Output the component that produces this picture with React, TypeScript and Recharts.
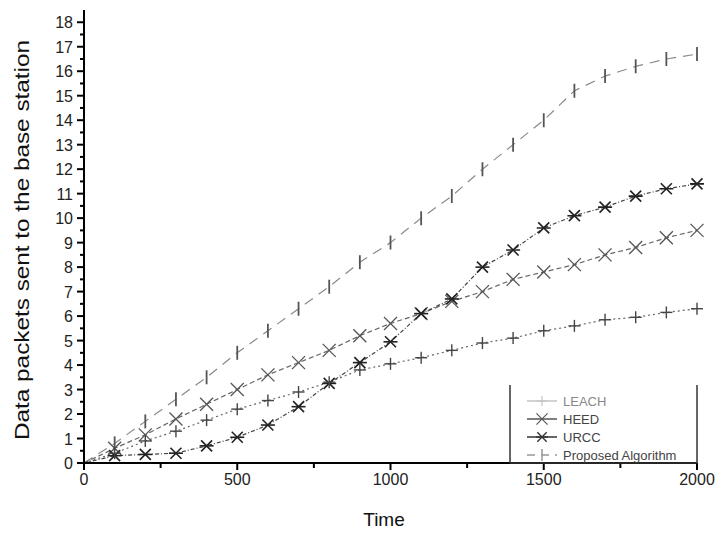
import { LineChart, Line, XAxis, YAxis, Legend } from "recharts";

const times = [0, 100, 200, 300, 400, 500, 600, 700, 800, 900, 1000, 1100, 1200, 1300, 1400, 1500, 1600, 1700, 1800, 1900, 2000];
const leach = [0, 0.4, 0.9, 1.3, 1.75, 2.2, 2.55, 2.9, 3.3, 3.8, 4.05, 4.3, 4.6, 4.9, 5.1, 5.4, 5.6, 5.85, 5.95, 6.15, 6.3];
const heed = [0, 0.6, 1.15, 1.8, 2.4, 3.0, 3.6, 4.1, 4.6, 5.2, 5.7, 6.1, 6.6, 7.0, 7.5, 7.8, 8.1, 8.5, 8.8, 9.2, 9.5];
const urcc = [0, 0.3, 0.35, 0.4, 0.7, 1.05, 1.55, 2.3, 3.25, 4.1, 4.95, 6.1, 6.7, 8.0, 8.7, 9.6, 10.1, 10.45, 10.9, 11.2, 11.4];
const proposed = [0, 0.8, 1.7, 2.6, 3.5, 4.5, 5.4, 6.3, 7.2, 8.2, 9.0, 10.0, 10.9, 12.0, 13.0, 14.0, 15.2, 15.8, 16.2, 16.5, 16.7];

const xTicks = [0, 500, 1000, 1500, 2000];
const yTicks = [0, 1, 2, 3, 4, 5, 6, 7, 8, 9, 10, 11, 12, 13, 14, 15, 16, 17, 18];

const data = times.map((t, i) => ({
  time: t,
  leach: leach[i],
  heed: heed[i],
  urcc: urcc[i],
  proposed: proposed[i],
}));

// minor ticks halfway between majors
const xAllTicks = xTicks.flatMap((t, i) => (i < xTicks.length - 1 ? [t, t + 250] : [t]));
const yAllTicks = yTicks.flatMap((t, i) => (i < yTicks.length - 1 ? [t, t + 0.5] : [t]));

const FONT = "'Liberation Sans', Arial, sans-serif";

type Shape = "plus" | "x" | "star" | "bar";

function Marker({ cx, cy, shape, color }: { cx: number; cy: number; shape: Shape; color: string }) {
  if (shape === "bar") {
    return <line x1={cx} y1={cy - 7} x2={cx} y2={cy + 7} stroke={color} strokeWidth={1.8} />;
  }
  if (shape === "plus") {
    return (
      <g stroke={color} strokeWidth={1.4}>
        <line x1={cx - 6} y1={cy} x2={cx + 6} y2={cy} />
        <line x1={cx} y1={cy - 6} x2={cx} y2={cy + 6} />
      </g>
    );
  }
  if (shape === "x") {
    const s = 6.5;
    return (
      <g stroke={color} strokeWidth={1.3}>
        <line x1={cx - s} y1={cy - s} x2={cx + s} y2={cy + s} />
        <line x1={cx - s} y1={cy + s} x2={cx + s} y2={cy - s} />
      </g>
    );
  }
  const s = 5.5;
  return (
    <g stroke={color} strokeWidth={1.6}>
      <line x1={cx - s} y1={cy - s} x2={cx + s} y2={cy + s} />
      <line x1={cx - s} y1={cy + s} x2={cx + s} y2={cy - s} />
      <line x1={cx - 7} y1={cy} x2={cx + 7} y2={cy} />
    </g>
  );
}

function makeDot(shape: Shape, color: string) {
  return (props: any) => {
    const { cx, cy, index } = props;
    if (index === 0 || cx == null || cy == null) return <g key={`${shape}-${index}`} />;
    return (
      <g key={`${shape}-${index}`}>
        <Marker cx={cx} cy={cy} shape={shape} color={color} />
      </g>
    );
  };
}

function XTick(props: any) {
  const { x, y, payload } = props;
  const major = payload.value % 500 === 0;
  return (
    <g>
      <line x1={x} y1={y} x2={x} y2={y + (major ? 7 : 5)} stroke="#000" strokeWidth={2} />
      {major && (
        <text x={x} y={y + 22} textAnchor="middle" fontSize={16} fontFamily={FONT} fill="#222">
          {payload.value}
        </text>
      )}
    </g>
  );
}

function YTick(props: any) {
  const { x, y, payload } = props;
  const major = Number.isInteger(payload.value);
  return (
    <g>
      <line x1={x - (major ? 7 : 4)} y1={y} x2={x} y2={y} stroke="#000" strokeWidth={2} />
      {major && (
        <text x={x - 11} y={y + 6} textAnchor="end" fontSize={16} fontFamily={FONT} fill="#222">
          {payload.value}
        </text>
      )}
    </g>
  );
}

const legendItems: { name: string; shape: Shape; color: string; dash: string; textColor: string }[] = [
  { name: "LEACH", shape: "plus", color: "#c4c4c4", dash: "", textColor: "#888" },
  { name: "HEED", shape: "x", color: "#555", dash: "", textColor: "#444" },
  { name: "URCC", shape: "star", color: "#333", dash: "", textColor: "#444" },
  { name: "Proposed Algorithm", shape: "bar", color: "#999", dash: "8 6", textColor: "#444" },
];

function LegendBox() {
  return (
    <svg width={190} height={80} style={{ display: "block" }}>
      <line x1={1} y1={0} x2={1} y2={78} stroke="#333" strokeWidth={1.5} />
      <line x1={188} y1={0} x2={188} y2={78} stroke="#333" strokeWidth={1.5} />
      <line x1={1} y1={78} x2={188} y2={78} stroke="#333" strokeWidth={1.5} />
      {legendItems.map((it, i) => {
        const cy = 16 + i * 18;
        return (
          <g key={it.name}>
            <line x1={18} y1={cy} x2={48} y2={cy} stroke={it.color} strokeWidth={1.5} strokeDasharray={it.dash} />
            <g transform={`translate(33 ${cy}) scale(0.85) translate(-33 ${-cy})`}>
              <Marker cx={33} cy={cy} shape={it.shape} color={it.color} />
            </g>
            <text x={54} y={cy + 5} fontSize={13} fontFamily={FONT} fill={it.textColor}>
              {it.name}
            </text>
          </g>
        );
      })}
    </svg>
  );
}

export default function App() {
  return (
    <div style={{ position: "absolute", left: 0, top: 0, width: 715, height: 538, background: "#fff" }}>
      <LineChart width={715} height={538} data={data} margin={{ top: 10, right: 18, left: 0, bottom: 0 }}>
        <XAxis
          dataKey="time"
          type="number"
          domain={[0, 2000]}
          ticks={xAllTicks}
          interval={0}
          height={75}
          tickSize={0}
          tickMargin={0}
          tickLine={false}
          axisLine={{ stroke: "#000", strokeWidth: 2 }}
          tick={<XTick />}
        />
        <YAxis
          type="number"
          domain={[0, 18.5]}
          ticks={yAllTicks}
          interval={0}
          width={84}
          tickSize={0}
          tickMargin={0}
          tickLine={false}
          allowDataOverflow
          axisLine={{ stroke: "#000", strokeWidth: 2 }}
          tick={<YTick />}
        />
        <Legend
          layout="vertical"
          align="center"
          verticalAlign="middle"
          wrapperStyle={{ position: "absolute", left: 509, top: 385, width: 190, height: 80 }}
          content={() => <LegendBox />}
        />
        <Line
          dataKey="proposed"
          stroke="#8a8a8a"
          strokeWidth={1.2}
          strokeDasharray="10 7"
          dot={makeDot("bar", "#555")}
          isAnimationActive={false}
        />
        <Line
          dataKey="heed"
          stroke="#666"
          strokeWidth={1.2}
          strokeDasharray="5 3"
          dot={makeDot("x", "#555")}
          isAnimationActive={false}
        />
        <Line
          dataKey="urcc"
          stroke="#444"
          strokeWidth={1.2}
          strokeDasharray="4 2 1 2"
          dot={makeDot("star", "#222")}
          isAnimationActive={false}
        />
        <Line
          dataKey="leach"
          stroke="#666"
          strokeWidth={1.2}
          strokeDasharray="2 3"
          dot={makeDot("plus", "#444")}
          isAnimationActive={false}
        />
      </LineChart>
      <div
        style={{
          position: "absolute",
          left: 384,
          top: 509,
          transform: "translateX(-50%)",
          fontFamily: FONT,
          fontSize: 19,
          color: "#111",
          whiteSpace: "nowrap",
        }}
      >
        Time
      </div>
      <svg width={40} height={538} style={{ position: "absolute", left: 0, top: 0 }}>
        <text
          transform="translate(29 240) rotate(-90)"
          textAnchor="middle"
          fontSize={20}
          fontFamily={FONT}
          fill="#111"
          textLength={400}
          lengthAdjust="spacingAndGlyphs"
        >
          Data packets sent to the base station
        </text>
      </svg>
    </div>
  );
}
